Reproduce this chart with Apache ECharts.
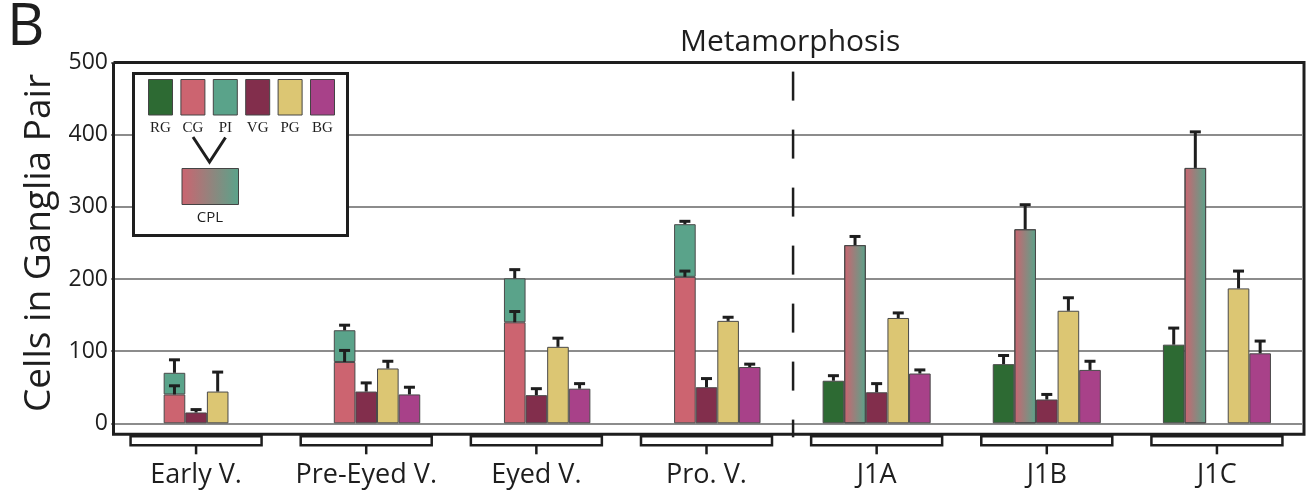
<!DOCTYPE html>
<html>
<head>
<meta charset="utf-8">
<script src="https://cdn.jsdelivr.net/npm/echarts@6/dist/echarts.min.js"></script>
<style>
  html, body { margin: 0; padding: 0; background: #fff; }
  #chart { width: 1310px; height: 493px; }
</style>
</head>
<body>
<div id="chart"></div>
<script>
// data (cells per ganglia pair, mean + upper error)
const stages = ['Early V.', 'Pre-Eyed V.', 'Eyed V.', 'Pro. V.', 'J1A', 'J1B', 'J1C'];
const yTicks = [0, 100, 200, 300, 400, 500];

const rg    = ['-', '-', '-', '-', 59, 82, 109];
const rgErr = [0, 0, 0, 0, 7, 12, 23];
const cg    = [40, 85, 140, 203, '-', '-', '-'];
const cgErr = [12, 16, 15, 8, 0, 0, 0];
const pi    = [30, 44, 61, 73, '-', '-', '-'];   // stacked on top of CG
const piErr = [18, 7, 12, 4, 0, 0, 0];
const cpl   = ['-', '-', '-', '-', 247, 269, 354];
const cplErr = [0, 0, 0, 0, 12, 34, 50];
const vg    = [15, 44, 39, 50, 43, 33, '-'];
const vgErr = [4, 12, 9, 12, 12, 7, 0];
const pg    = [44, 76, 106, 142, 146, 156, 187];
const pgErr = [27, 10, 12, 5, 7, 18, 24];
const bg    = ['-', 40, 48, 78, 69, 74, 97];
const bgErr = [0, 10, 7, 4, 5, 12, 17];

const legendNames = ['RG', 'CG', 'PI', 'VG', 'PG', 'BG'];
const colors = {
  RG: '#2d6a33', CG: '#cc6470', PI: '#5aa38a',
  VG: '#822e4c', PG: '#dcc673', BG: '#a84189'
};

const GAP = 0.365;     // barCategoryGap
const SLOTS = 5;
const INK = '#1e1e1e';

const chart = echarts.init(document.getElementById('chart'));

function bar(name, data, stack, color) {
  return {
    type: 'bar', name, data, stack,
    barGap: 0, barCategoryGap: (GAP * 100) + '%',
    itemStyle: { color, borderColor: '#4a4a4a', borderWidth: 1 },
    silent: true, z: 3
  };
}

const cplGradient = new echarts.graphic.LinearGradient(0, 0, 1, 0, [
  { offset: 0, color: colors.CG }, { offset: 1, color: colors.PI }
]);

// error bar items: [category, slot, top of bar, error]
const errItems = [];
function addErr(vals, errs, slot, base) {
  vals.forEach((v, i) => {
    if (v === '-' || !errs[i]) return;
    const b = base ? base[i] : 0;
    errItems.push([i, slot, v + b, errs[i]]);
  });
}
addErr(rg, rgErr, 0);
addErr(cg, cgErr, 1);
addErr(pi, piErr, 1, cg);
addErr(cpl, cplErr, 1);
addErr(vg, vgErr, 2);
addErr(pg, pgErr, 3);
addErr(bg, bgErr, 4);

const option = {
  animation: false,
  textStyle: { fontFamily: 'Open Sans' },
  title: [
    { text: 'B', left: 2, top: -6, textStyle: { fontSize: 58, fontWeight: 'normal', color: INK, fontFamily: 'Open Sans' } },
    { text: 'Metamorphosis', left: 675, top: 22, textStyle: { fontSize: 30, fontWeight: 'normal', color: INK, fontFamily: 'Open Sans' } }
  ],
  grid: { left: 111, right: 8, top: 62.6, bottom: 69.7 },
  xAxis: {
    type: 'category', data: stages,
    axisLine: { show: false }, axisTick: { show: false },
    axisLabel: { fontSize: 27, color: INK, margin: 39, interval: 0, hideOverlap: false }
  },
  yAxis: {
    type: 'value', min: yTicks[0], max: yTicks[yTicks.length - 1], interval: 100,
    name: 'Cells in Ganglia Pair', nameLocation: 'middle', nameGap: 52,
    nameTextStyle: { fontSize: 37, color: INK },
    axisLine: { show: false }, axisTick: { show: false },
    axisLabel: { fontSize: 23, color: INK, margin: 3 },
    splitLine: { lineStyle: { color: '#8c8c8c', width: 2 } }
  },
  series: [
    bar('RG', rg, 's0', colors.RG),
    bar('CG', cg, 's1', colors.CG),
    bar('PI', pi, 's1', colors.PI),
    bar('CPL', cpl, 's1', cplGradient),
    bar('VG', vg, 's2', colors.VG),
    bar('PG', pg, 's3', colors.PG),
    bar('BG', bg, 's4', colors.BG),
    {
      type: 'custom', name: 'err', data: errItems, encode: { x: 0, y: 2 }, z: 5, silent: true,
      renderItem(params, api) {
        const cat = api.value(0), slot = api.value(1), top = api.value(2), err = api.value(3);
        const band = api.size([1, 0])[0];
        const bw = band * (1 - GAP) / SLOTS;
        const p = api.coord([cat, top]);
        const x = p[0] + (slot - 2) * bw;
        const y2 = api.coord([cat, top + err])[1];
        return {
          type: 'group', children: [
            { type: 'line', shape: { x1: x, y1: p[1], x2: x, y2 }, style: { stroke: INK, lineWidth: 3 } },
            { type: 'line', shape: { x1: x - 5.5, y1: y2, x2: x + 5.5, y2 }, style: { stroke: INK, lineWidth: 3 } }
          ]
        };
      }
    },
    {
      // brackets under each stage
      type: 'custom', name: 'brackets', data: stages.map((s, i) => [i, 0]), encode: { x: 0, y: 1 },
      silent: true, z: 4,
      renderItem(params, api) {
        const p = api.coord([api.value(0), 0]);
        const half = api.size([1, 0])[0] * 0.385;
        return {
          type: 'group', children: [
            { type: 'rect', shape: { x: p[0] - half, y: p[1] + 13, width: half * 2, height: 9 },
              style: { fill: '#fff', stroke: INK, lineWidth: 2.5 } },
            { type: 'line', shape: { x1: p[0], y1: p[1] + 22, x2: p[0], y2: p[1] + 31 },
              style: { stroke: INK, lineWidth: 2.5 } }
          ]
        };
      }
    }
  ]
};
chart.setOption(option);

// frame, metamorphosis divider and legend box
const p0 = chart.convertToPixel({ gridIndex: 0 }, [0, 0]);
const pLast = chart.convertToPixel({ gridIndex: 0 }, [stages.length - 1, yTicks[yTicks.length - 1]]);
const band = chart.convertToPixel({ gridIndex: 0 }, [1, 0])[0] - p0[0];
const pPro = chart.convertToPixel({ gridIndex: 0 }, [3, 0]);
const divX = pPro[0] + band / 2 + 1.5;

const frameLeft = p0[0] - band / 2 + 2.5;
const frameRight = pLast[0] + band / 2 + 2;
const frameTop = pLast[1];
const frameBottom = p0[1] + 11;

const graphics = [
  { type: 'polyline', silent: true, z: 10,
    shape: { points: [[frameLeft, frameTop], [frameRight, frameTop], [frameRight, frameBottom], [frameLeft, frameBottom], [frameLeft, frameTop]] },
    style: { stroke: INK, lineWidth: 3, fill: null } },
  { type: 'line', silent: true, z: 10,
    shape: { x1: divX, y1: frameTop + 9, x2: divX, y2: frameBottom + 3 },
    style: { stroke: INK, lineWidth: 2.5, lineDash: [29, 29] } },
  { type: 'rect', silent: true, z: 20,
    shape: { x: 133.5, y: 73.5, width: 214, height: 162 },
    style: { fill: '#fff', stroke: INK, lineWidth: 3 } }
];
legendNames.forEach((n, k) => {
  const x = 148.5 + k * 32.4;
  graphics.push({ type: 'rect', silent: true, z: 21,
    shape: { x, y: 79.5, width: 24, height: 35.5 },
    style: { fill: colors[n], stroke: '#444', lineWidth: 1 } });
  graphics.push({ type: 'text', silent: true, z: 21,
    style: { text: n, x: x + 12, y: 128, align: 'center', verticalAlign: 'middle',
      font: '15px "Liberation Serif"', fill: INK } });
});
graphics.push({ type: 'polyline', silent: true, z: 21,
  shape: { points: [[193, 137], [209.5, 162], [225.5, 137.5]] },
  style: { stroke: INK, lineWidth: 3, fill: null } });
graphics.push({ type: 'rect', silent: true, z: 21,
  shape: { x: 182, y: 168.5, width: 56.5, height: 36 },
  style: { fill: new echarts.graphic.LinearGradient(0, 0, 1, 0, [
    { offset: 0, color: colors.CG }, { offset: 1, color: colors.PI }]), stroke: '#444', lineWidth: 1 } });
graphics.push({ type: 'text', silent: true, z: 21,
  style: { text: 'CPL', x: 210, y: 218, align: 'center', verticalAlign: 'middle',
    font: '15px "Open Sans"', fill: INK } });

chart.setOption({ graphic: graphics });
</script>
</body>
</html>
